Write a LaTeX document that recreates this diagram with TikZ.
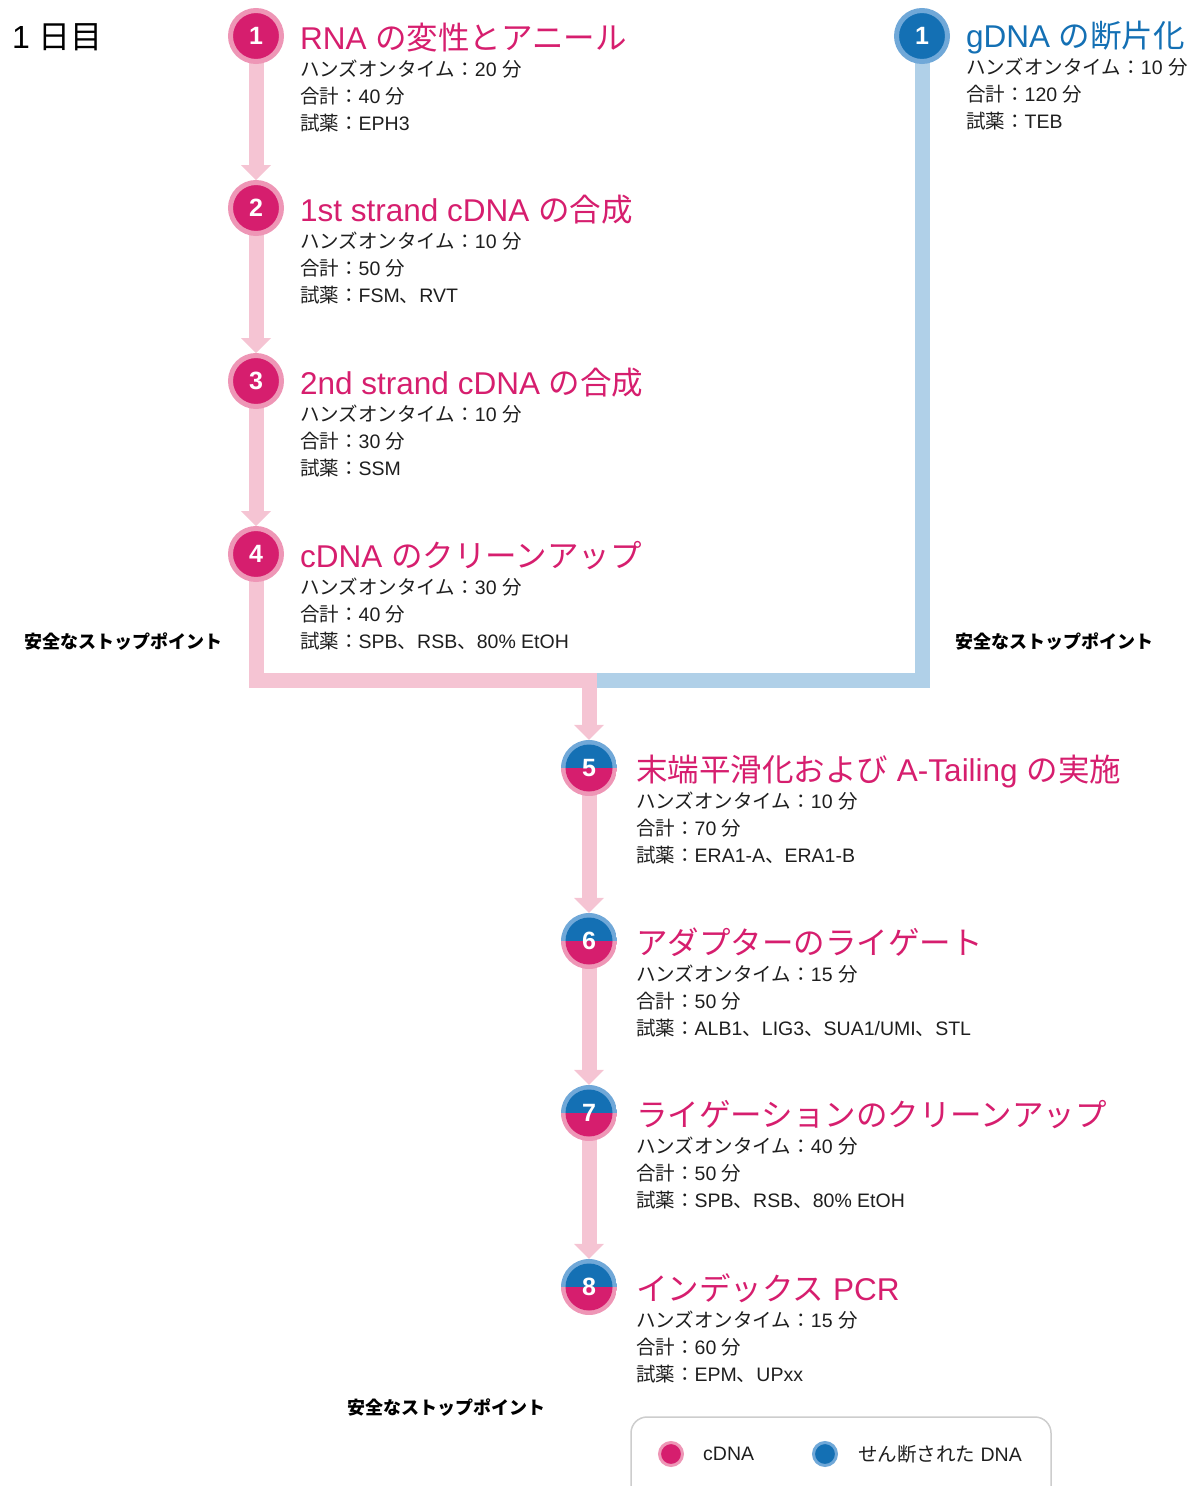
\documentclass[tikz,border=0pt]{standalone}
\usepackage{fontspec}
\setmainfont{Liberation Sans}
\newfontfamily\jp{Noto Sans CJK JP}
\usetikzlibrary{arrows.meta,backgrounds}
\definecolor{dkpink}{RGB}{214,30,110}
\definecolor{ltpink}{RGB}{238,150,182}
\definecolor{lnpink}{RGB}{245,196,211}
\definecolor{dkblue}{RGB}{20,112,180}
\definecolor{ltblue}{RGB}{112,168,216}
\definecolor{lnblue}{RGB}{176,208,232}
\definecolor{legendgray}{RGB}{205,205,205}
\definecolor{txt}{RGB}{30,30,30}
\tikzset{
  numtxt/.style={text=white,font=\fontsize{25}{25}\selectfont\bfseries},
  pinkdot/.style={circle,fill=dkpink,draw=ltpink,line width=5pt,minimum size=51pt,inner sep=0pt,numtxt},
  bluedot/.style={circle,fill=dkblue,draw=ltblue,line width=5pt,minimum size=51pt,inner sep=0pt,numtxt},
  mixdot/.style={circle,minimum size=56pt,inner sep=0pt,numtxt,
    path picture={
      \fill[ltblue] (path picture bounding box.north west) rectangle (path picture bounding box.east);
      \fill[ltpink] (path picture bounding box.west) rectangle (path picture bounding box.south east);
      \fill[dkblue] ([xshift=-23.5pt]path picture bounding box.center) arc[start angle=180,end angle=0,radius=23.5pt] -- cycle;
      \fill[dkpink] ([xshift=23.5pt]path picture bounding box.center) arc[start angle=0,end angle=-180,radius=23.5pt] -- cycle;
    }},
  legpink/.style={circle,fill=dkpink,draw=ltpink,line width=3pt,minimum size=23pt,inner sep=0pt},
  legblue/.style={circle,fill=dkblue,draw=ltblue,line width=3pt,minimum size=23pt,inner sep=0pt},
  ttl/.style={anchor=base west,inner sep=0pt,font=\fontsize{31.5}{31.5}\selectfont},
  bdy/.style={anchor=base west,inner sep=0pt,font=\fontsize{19.5}{19.5}\selectfont,text=txt},
  leg/.style={anchor=west,inner sep=0pt,font=\fontsize{19.5}{19.5}\selectfont,text=txt},
  stoplbl/.style={inner sep=0pt,font=\jp\fontsize{18}{18}\selectfont\bfseries,text=black},
  flowpink/.style={draw=lnpink,line width=15pt},
  flowblue/.style={draw=lnblue,line width=15pt},
  flowarrow/.style={-{Triangle[width=30pt,length=15pt,line width=0pt]}},
}
\newcommand\hands[1]{{\jp ハンズオンタイム：}#1 {\jp 分}}
\newcommand\total[1]{{\jp 合計：}#1 {\jp 分}}
\newcommand\reag[1]{{\jp 試薬：}#1}
\newcommand\jc{{\jp 、}}
\newcommand\stepblock[8]{%
  \node[ttl,text=#4] (#1t) at (#2,-#3-13) {#5};
  \node[bdy] (#1a) at (#2,-#3-40) {#6};
  \node[bdy] (#1b) at (#2,-#3-67) {#7};
  \node[bdy] (#1c) at (#2,-#3-94) {#8};
}
\begin{document}
\begin{tikzpicture}[x=1pt,y=1pt]
\useasboundingbox (0,0) rectangle (1198,-1486);

\node[anchor=west,inner sep=0pt,font=\fontsize{32}{32}\selectfont,text=black] (day) at (12,-37) {1 {\jp 日目}};

% circles
\node[pinkdot] (L1) at (256,-36) {1};
\node[pinkdot] (L2) at (256,-208) {2};
\node[pinkdot] (L3) at (256,-381) {3};
\node[pinkdot] (L4) at (256,-554) {4};
\node[bluedot] (B1) at (922,-36) {1};
\node[mixdot] (R5) at (589,-768) {5};
\node[mixdot] (R6) at (589,-941) {6};
\node[mixdot] (R7) at (589,-1113) {7};
\node[mixdot] (R8) at (589,-1287) {8};

\coordinate (m) at (589,-680);
\coordinate (j) at (596,-680);

\begin{scope}[on background layer]
  \draw[flowpink,flowarrow] (L1.center) -- (L2.north);
  \draw[flowpink,flowarrow] (L2.center) -- (L3.north);
  \draw[flowpink,flowarrow] (L3.center) -- (L4.north);
  \draw[flowblue,line join=miter] (B1.center) |- (j);
  \draw[flowpink,line join=miter,flowarrow] (L4.center) |- (m) -- (R5.north);
  \draw[flowpink,flowarrow] (R5.center) -- (R6.north);
  \draw[flowpink,flowarrow] (R6.center) -- (R7.north);
  \draw[flowpink,flowarrow] (R7.center) -- (R8.north);
\end{scope}

% texts
\stepblock{s1}{300}{36}{dkpink}{RNA {\jp の変性とアニール}}{\hands{20}}{\total{40}}{\reag{EPH3}}
\stepblock{s2}{300}{208}{dkpink}{1st strand cDNA {\jp の合成}}{\hands{10}}{\total{50}}{\reag{FSM\jc RVT}}
\stepblock{s3}{300}{381}{dkpink}{2nd strand cDNA {\jp の合成}}{\hands{10}}{\total{30}}{\reag{SSM}}
\stepblock{s4}{300}{554}{dkpink}{cDNA {\jp のクリーンアップ}}{\hands{30}}{\total{40}}{\reag{SPB\jc RSB\jc 80\% EtOH}}
\stepblock{g1}{966}{34}{dkblue}{gDNA {\jp の断片化}}{\hands{10}}{\total{120}}{\reag{TEB}}
\stepblock{s5}{636}{768}{dkpink}{{\jp 末端平滑化および} A-Tailing {\jp の実施}}{\hands{10}}{\total{70}}{\reag{ERA1-A\jc ERA1-B}}
\stepblock{s6}{636}{941}{dkpink}{{\jp アダプターのライゲート}}{\hands{15}}{\total{50}}{\reag{ALB1\jc LIG3\jc SUA1/UMI\jc STL}}
\stepblock{s7}{636}{1113}{dkpink}{{\jp ライゲーションのクリーンアップ}}{\hands{40}}{\total{50}}{\reag{SPB\jc RSB\jc 80\% EtOH}}
\stepblock{s8}{636}{1287}{dkpink}{{\jp インデックス} PCR}{\hands{15}}{\total{60}}{\reag{EPM\jc UPxx}}

% stop points
\node[stoplbl] (sp1) at (123,-642) {安全なストップポイント};
\node[stoplbl] (sp2) at (1054,-642) {安全なストップポイント};
\node[stoplbl] (sp3) at (446,-1408) {安全なストップポイント};

% legend
\draw[legendgray,line width=1.5pt,rounded corners=16pt] (631,-1486) |- (1051,-1417) -- (1051,-1486);
\node[legpink] (lp) at (671,-1454) {};
\node[leg] (lpt) at (703,-1454) {cDNA};
\node[legblue] (lb) at (825,-1454) {};
\node[leg] (lbt) at (858,-1454) {{\jp せん断された} DNA};
\end{tikzpicture}
\end{document}
